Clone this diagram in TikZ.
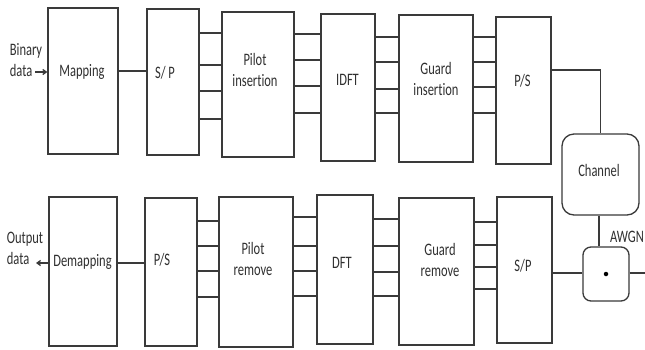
\documentclass[tikz,border=0pt]{standalone}
\usepackage{fontspec}
\setmainfont[Ligatures={NoCommon}]{Carlito}
\usetikzlibrary{arrows.meta}
\definecolor{ln}{HTML}{3A3A3A}
\definecolor{tx}{HTML}{303030}
\newcommand\stk[2][c]{\scalebox{1}[1.4]{\begin{tabular}{@{}#1@{}}#2\end{tabular}}}
\begin{document}
\begin{tikzpicture}[x=1pt,y=-1pt,
  box/.style={draw=ln,line width=1.3pt,inner sep=0pt,fill=white},
  rbox/.style={box,rounded corners=12pt},
  lbl/.style={inner sep=0pt,text=tx,font=\fontsize{12.5}{15}\selectfont},
  wire/.style={draw=ln,line width=1.3pt},
  arr/.style={wire,-{Straight Barb[length=3.5pt,width=5pt]}}]
\useasboundingbox[fill=white] (0,0) rectangle (645,349);
% top row boxes
\node[box,minimum width=70pt,minimum height=146pt] (map) at (83,81) {};
\node[box,minimum width=52pt,minimum height=146pt] (sp1) at (173,82) {};
\node[box,minimum width=72pt,minimum height=145pt] (pil) at (258,84.5) {};
\node[box,minimum width=54pt,minimum height=147pt] (idft) at (348,87.5) {};
\node[box,minimum width=74pt,minimum height=147pt] (gi) at (436,88.5) {};
\node[box,minimum width=55pt,minimum height=147pt] (ps1) at (523.5,90.5) {};
% channel and AWGN
\node[rbox,minimum width=77pt,minimum height=81pt] (ch) at (600.5,174.5) {};
\node[box,rounded corners=8pt,minimum width=46pt,minimum height=54pt] (aw) at (606,274) {};
\node[circle,fill=black,inner sep=0pt,minimum size=4.5pt] (dot) at (aw.center) {};
% bottom row boxes
\node[box,minimum width=68pt,minimum height=149pt] (dem) at (83,271.5) {};
\node[box,minimum width=52pt,minimum height=148pt] (ps2) at (171,272) {};
\node[box,minimum width=74pt,minimum height=150pt] (pr) at (256,272) {};
\node[box,minimum width=56pt,minimum height=149pt] (dft) at (345,269.5) {};
\node[box,minimum width=75pt,minimum height=147pt] (gr) at (436.5,271.5) {};
\node[box,minimum width=55pt,minimum height=146pt] (sp2) at (524.5,270) {};
% labels
\node[lbl] (tbin) at (26,62) {\stk[l]{Binary\\data}};
\node[lbl] (tmap) at (82,72) {\stk{Mapping}};
\node[lbl] (tsp1) at (165,74) {\stk{S/ P}};
\node[lbl] (tpil) at (255,71.5) {\stk{Pilot\\insertion}};
\node[lbl] (tidft) at (347.5,81) {\stk{IDFT}};
\node[lbl] (tgi) at (436,80.5) {\stk{Guard\\insertion}};
\node[lbl] (tps1) at (522.5,82) {\stk{P/S}};
\node[lbl] (tch) at (599,172) {\stk{Channel}};
\node[lbl] (taw) at (627,238) {\stk{AWGN}};
\node[lbl] (tout) at (25,250) {\stk[l]{Output\\data}};
\node[lbl] (tdem) at (82.5,262) {\stk{Demapping}};
\node[lbl] (tps2) at (162,261) {\stk{P/S}};
\node[lbl] (tpr) at (253,260.5) {\stk{Pilot\\remove}};
\node[lbl] (tdft) at (342,264.5) {\stk{DFT}};
\node[lbl] (tgr) at (440,261.5) {\stk{Guard\\remove}};
\node[lbl] (tsp2) at (523,267) {\stk{S/P}};
% coordinates for free ends
\coordinate (inp) at (35,72);
\coordinate (outp) at (36,263);
\coordinate (awend) at (645,273);
% top connectors
\draw[arr] (inp) -- (map.west |- inp);
\draw[wire] (map.east |- 0,71) -- (sp1.west |- 0,71);
\foreach \y in {33,65,91,119} \draw[wire] (sp1.east |- 0,\y) -- (pil.west |- 0,\y);
\foreach \y in {34,60,86,113} \draw[wire] (pil.east |- 0,\y) -- (idft.west |- 0,\y);
\foreach \y in {37,62,89,113} \draw[wire] (idft.east |- 0,\y) -- (gi.west |- 0,\y);
\foreach \y in {37,62,87,113} \draw[wire] (gi.east |- 0,\y) -- (ps1.west |- 0,\y);
\draw[wire] (ps1.east |- 0,70) -| (ch.north);
\draw[wire] (ch.south -| 599,0) -- (aw.north -| 599,0);
\draw[wire] (aw.east |- awend) -- (awend);
\draw[wire] (aw.west |- 0,273) -- (sp2.east |- 0,273);
% bottom connectors
\foreach \y in {222,245,267,289} \draw[wire] (gr.east |- 0,\y) -- (sp2.west |- 0,\y);
\foreach \y in {219,246,272,296} \draw[wire] (dft.east |- 0,\y) -- (gr.west |- 0,\y);
\foreach \y in {217,246,271,296} \draw[wire] (pr.east |- 0,\y) -- (dft.west |- 0,\y);
\foreach \y in {221,246,271,297} \draw[wire] (ps2.east |- 0,\y) -- (pr.west |- 0,\y);
\draw[wire] (ps2.west |- 0,263) -- (dem.east |- 0,263);
\draw[arr] (dem.west |- outp) -- (outp);
\end{tikzpicture}
\end{document}
